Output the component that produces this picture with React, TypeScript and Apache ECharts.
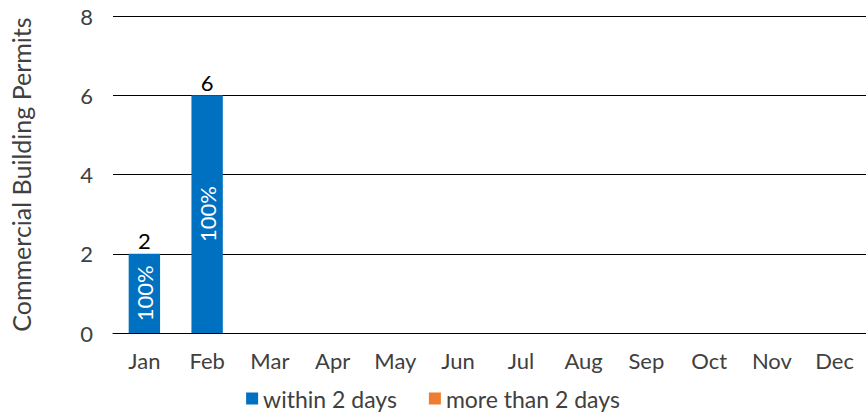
import React, { useEffect, useRef } from "react";
import * as echarts from "echarts";

const months = ["Jan", "Feb", "Mar", "Apr", "May", "Jun", "Jul", "Aug", "Sep", "Oct", "Nov", "Dec"];
const within2Days: (number | null)[] = [2, 6, null, null, null, null, null, null, null, null, null, null];
const moreThan2Days: (number | null)[] = [0, 0, null, null, null, null, null, null, null, null, null, null];
const yTicks = [0, 2, 4, 6, 8];

const FONT = "Lato, 'Open Sans', sans-serif";

export default function App() {
  const ref = useRef<HTMLDivElement>(null);
  useEffect(() => {
    if (!ref.current) return;
    const chart = echarts.init(ref.current, undefined, { renderer: "svg" });
    const totals = months.map((_, i) =>
      within2Days[i] == null && moreThan2Days[i] == null ? null : (within2Days[i] || 0) + (moreThan2Days[i] || 0)
    );
    chart.setOption({
      animation: false,
      textStyle: { fontFamily: FONT },
      grid: { left: 112, right: 0, top: 16, bottom: 83, containLabel: false },
      legend: {
        bottom: 1,
        left: "center",
        itemWidth: 12,
        itemHeight: 12,
        itemGap: 32,
        icon: "rect",
        textStyle: { fontFamily: FONT, fontSize: 23, color: "#404040" },
        data: ["within 2 days", "more than 2 days"],
      },
      xAxis: {
        type: "category",
        data: months,
        axisLine: { lineStyle: { color: "#000", width: 1 } },
        axisTick: { show: false },
        axisLabel: { fontFamily: FONT, fontSize: 22, color: "#404040", margin: 16 },
      },
      yAxis: {
        type: "value",
        min: yTicks[0],
        max: yTicks[yTicks.length - 1],
        interval: 2,
        name: "Commercial Building Permits",
        nameLocation: "middle",
        nameGap: 80,
        nameTextStyle: { fontFamily: FONT, fontSize: 25, color: "#404040" },
        axisLine: { show: false },
        axisTick: { show: false },
        axisLabel: { fontFamily: FONT, fontSize: 22, color: "#404040", margin: 20 },
        splitLine: { lineStyle: { color: "#000", width: 1 } },
      },
      series: [
        {
          name: "within 2 days",
          type: "bar",
          stack: "total",
          barWidth: "50%",
          itemStyle: { color: "#0070C0" },
          data: within2Days,
          label: {
            show: true,
            position: "inside",
            rotate: 90,
            color: "#fff",
            fontFamily: FONT,
            fontSize: 22,
            formatter: (p: any) => {
              const t = totals[p.dataIndex];
              if (!t || p.value == null || p.value === 0) return "";
              return Math.round((p.value / t) * 100) + "%";
            },
          },
        },
        {
          name: "more than 2 days",
          type: "bar",
          stack: "total",
          barWidth: "50%",
          itemStyle: { color: "#ED7D31" },
          data: moreThan2Days,
          label: {
            show: true,
            position: "top",
            color: "#000",
            fontFamily: FONT,
            fontSize: 22,
            distance: 2,
            formatter: (p: any) => {
              const t = totals[p.dataIndex];
              return t == null ? "" : String(t);
            },
          },
        },
      ],
    });
    return () => chart.dispose();
  }, []);
  return <div ref={ref} style={{ position: "fixed", left: 0, top: 0, width: 866, height: 416, background: "#fff" }} />;
}
